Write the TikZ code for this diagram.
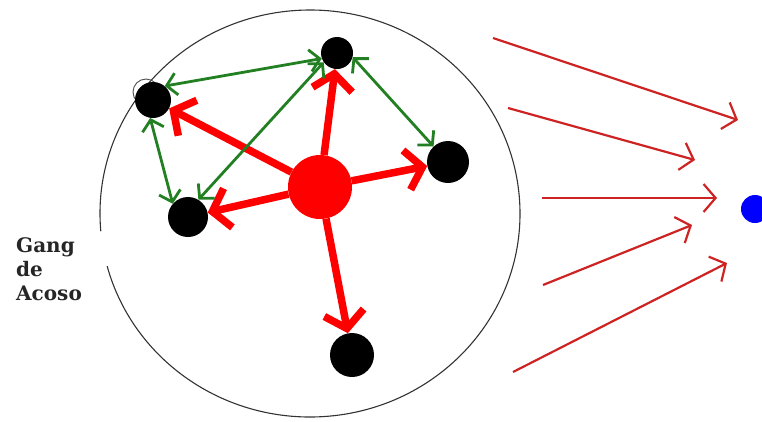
\documentclass[tikz,border=0pt]{standalone}
\usepackage{fontspec}
\newfontfamily\gangfont{DejaVu Serif}
\usetikzlibrary{arrows.meta}
\definecolor{linkgreen}{RGB}{34,128,34}
\definecolor{pushred}{RGB}{205,35,35}
\begin{document}
\begin{tikzpicture}[x=1pt,y=-1pt,
  member/.style={circle,fill=black,inner sep=0pt,minimum size=#1},
  attack/.style={draw=red,line width=7.5pt,-{Straight Barb[length=16pt,width=40pt]}},
  link/.style={draw=linkgreen,line width=2.8pt,
    {Straight Barb[length=10pt,width=22pt]}-{Straight Barb[length=10pt,width=22pt]}},
  push/.style={draw=pushred,line width=2.2pt,-{Straight Barb[length=12pt,width=28pt]}}]
  \useasboundingbox (0,0) rectangle (762,421);
  % Group boundary, open on the left for the label
  \draw[line width=1.1pt,black!80] (310,213.5) ++(175:210 and 203.5)
    arc[start angle=175,end angle=525,x radius=210,y radius=203.5];
  \draw[line width=0.9pt,black!70] (146,92) circle[radius=13];
  % Leader and members
  \node[circle,fill=red,inner sep=0pt,minimum size=64pt] (boss) at (320,187) {};
  \node[member=32pt] (top) at (337,53) {};
  \node[member=36pt] (upleft) at (153,100) {};
  \node[member=42pt] (right) at (448,162) {};
  \node[member=40pt] (lowleft) at (188,217) {};
  \node[member=44pt] (bottom) at (352,355) {};
  % Victim
  \node[circle,fill=blue,inner sep=0pt,minimum size=28pt] (victim) at (755,209) {};
  % Orders from the leader
  \draw[attack] (boss) -- (top);
  \draw[attack] (boss) -- (upleft);
  \draw[attack] (boss) -- (right);
  \draw[attack] (boss) -- (lowleft);
  \draw[attack] (boss) -- (bottom);
  % Links between members
  \draw[link] (upleft.50) -- (top.200);
  \draw[link] (lowleft.59) -- (top.215);
  \draw[link] (top.-15) -- (right.133);
  \draw[link] (upleft.261) -- (lowleft.139);
  % Pressure on the victim
  \coordinate (s1) at (493,38);  \coordinate (e1) at (738,120);
  \coordinate (s2) at (508,108); \coordinate (e2) at (695,160);
  \coordinate (s3) at (542,198); \coordinate (e3) at (717,198);
  \coordinate (s4) at (543,285); \coordinate (e4) at (692,225);
  \coordinate (s5) at (513,372); \coordinate (e5) at (727,263);
  \draw[push] (s1) -- (e1);
  \draw[push] (s2) -- (e2);
  \draw[push] (s3) -- (e3);
  \draw[push] (s4) -- (e4);
  \draw[push] (s5) -- (e5);
  % Label
  \node[anchor=north west,inner sep=0pt,align=left,text=black!85,
    font=\gangfont\bfseries\fontsize{20}{24}\selectfont] (label) at (16,237)
    {Gang\\de\\Acoso};
\end{tikzpicture}
\end{document}
